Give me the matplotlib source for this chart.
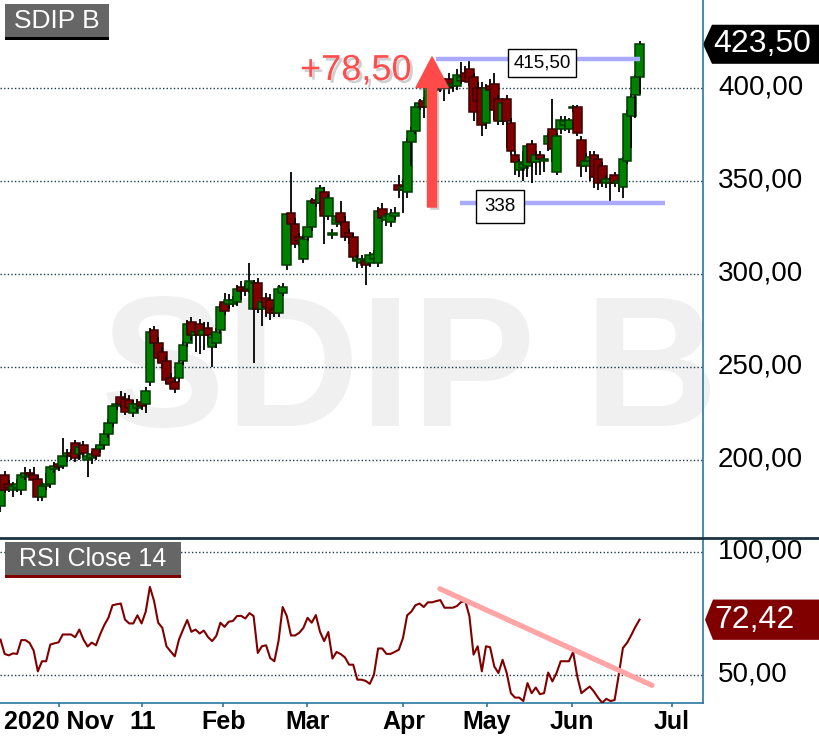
import numpy as np
import matplotlib.pyplot as plt
import matplotlib.patheffects as pe
from matplotlib.patches import Polygon, Rectangle
from matplotlib.lines import Line2D
from matplotlib.transforms import blended_transform_factory

plt.rcParams['font.family'] = ['Liberation Sans', 'DejaVu Sans']

# daily candles
opens = [175, 192, 187, 184, 185, 184, 191, 193, 192, 190,
         180, 186, 187, 195, 198, 197, 202, 204, 209, 203,
         208, 200, 201, 206, 206, 208, 214, 220, 229, 234,
         233, 232, 225, 228, 231, 230, 242, 270, 263, 258,
         253, 244, 242, 244, 253, 263, 274, 267, 273, 267,
         271, 261, 263, 270, 285, 284, 284, 285, 293, 292,
         292, 281, 295, 281, 287, 286, 281, 279, 290, 305,
         333, 327, 320, 308, 320, 325, 340, 338, 344, 331,
         321, 327, 333, 328, 322, 320, 307, 306, 307, 306,
         308, 306, 335, 329, 328, 331, 348, 345, 344, 371,
         377, 390, 393, 390, 398, 402, 405, 400, 405, 401,
         401, 404, 408, 410, 406, 400, 400, 381, 401, 402,
         394, 382, 394, 381, 364, 356, 357, 358, 370, 360,
         364, 361, 370, 378, 355, 378, 380, 378, 389, 390,
         372, 358, 361, 364, 362, 358, 349, 349, 353, 349,
         347, 361, 385, 396, 406]
highs = [186, 194, 189, 188, 190, 193, 196, 195, 196, 192,
         188, 193, 197, 199, 201, 212, 206, 206, 211, 209,
         210, 204, 205, 208, 210, 216, 222, 230, 233, 237,
         236, 235, 232, 233, 234, 239, 271, 272, 266, 261,
         256, 247, 245, 254, 264, 275, 277, 271, 276, 274,
         274, 268, 271, 284, 290, 289, 288, 294, 296, 295,
         306, 297, 298, 287, 290, 289, 284, 294, 295, 333,
         355, 330, 322, 321, 327, 341, 343, 348, 347, 343,
         324, 333, 339, 331, 324, 322, 310, 310, 309, 312,
         313, 336, 338, 333, 335, 336, 353, 351, 373, 379,
         392, 394, 395, 402, 403, 404, 407, 403, 408, 404,
         410, 414, 412, 415.5, 408, 403, 403, 402, 405, 408,
         396, 393, 396, 384, 366, 362, 366, 370, 372, 366,
         366, 364, 376, 394, 376, 385, 385, 384, 391, 391,
         374, 365, 366, 366, 364, 360, 353, 352, 355, 352,
         363, 388, 397, 407, 425.5]
lows = [172, 182, 183, 180, 183, 181, 189, 189, 186, 178,
        178, 184, 185, 193, 194, 195, 199, 200, 199, 200,
        201, 191, 198, 200, 204, 206, 212, 218, 227, 228,
        224, 226, 223, 226, 227, 225, 240, 261, 252, 249,
        241, 239, 236, 242, 251, 261, 264, 258, 257, 259,
        262, 250, 260, 268, 278, 281, 282, 283, 286, 288,
        290, 252, 279, 272, 277, 275, 277, 277, 288, 302,
        325, 314, 315, 306, 318, 323, 336, 334, 316, 329,
        319, 325, 326, 318, 316, 307, 303, 303, 294, 304,
        306, 304, 328, 326, 325, 329, 341, 333, 341, 358,
        375, 388, 384, 388, 396, 397, 398, 393, 397, 398,
        399, 402, 403, 401, 382, 389, 374, 378, 394, 383,
        380, 380, 368, 364, 353, 352, 350, 352, 349, 353,
        353, 355, 366, 360, 353, 375, 377, 376, 387, 374,
        352, 355, 350, 346, 345, 347, 346, 338, 347, 344,
        341, 359, 368, 384, 397]
closes = [184, 184, 185, 186, 187, 192, 193, 192, 189, 180,
          186, 187, 196, 197, 196, 202, 204, 202, 201, 207,
          204, 202, 203, 202, 208, 214, 220, 229, 230, 230,
          226, 228, 230, 230, 229, 237, 269, 263, 255, 252,
          243, 241, 238, 252, 262, 273, 267, 269, 267, 270,
          267, 266, 269, 282, 280, 286, 286, 292, 291, 291,
          296, 295, 281, 285, 282, 279, 279, 292, 293, 332,
          327, 316, 318, 319, 325, 339, 338, 346, 331, 341,
          322, 331, 328, 320, 320, 309, 308, 308, 305, 310,
          311, 334, 330, 331, 332, 333, 345, 347, 371, 377,
          390, 392, 390, 400, 401, 399, 400, 401, 400, 402,
          407, 406, 404, 403, 387, 393, 380, 400, 399, 388,
          382, 392, 382, 366, 360, 360, 359, 369, 360, 364,
          362, 362, 374, 367, 374, 383, 382, 383, 390, 376,
          358, 361, 363, 352, 349, 350, 351, 351, 349, 350,
          362, 386, 395, 406, 423.5]

rsi = [64.3, 58.5, 57.9, 58.7, 58.5, 64.1, 64.1, 63.0, 59.8, 51.4,
       55.5, 55.5, 62.3, 62.8, 63.2, 66.4, 66.4, 66.4, 65.3, 68.4,
       64.3, 61.5, 63.1, 62.0, 66.4, 70.2, 73.2, 78.3, 78.7, 79.0,
       72.5, 70.9, 70.9, 74.2, 70.9, 75.7, 85.8, 80.1, 71.2, 69.1,
       61.6, 59.5, 57.5, 64.3, 68.4, 72.3, 67.5, 68.4, 66.8, 68.0,
       65.4, 63.7, 65.8, 71.2, 69.5, 71.6, 71.9, 73.9, 74.0, 72.9,
       75.1, 73.9, 58.9, 61.6, 62.0, 56.8, 55.5, 63.7, 77.6, 73.9,
       66.0, 66.0, 67.1, 69.1, 73.2, 71.2, 74.3, 67.5, 63.7, 67.4,
       56.6, 59.3, 58.4, 57.1, 54.1, 54.1, 48.0, 48.0, 47.5, 46.3,
       50.0, 60.7, 60.7, 58.5, 58.5, 59.3, 60.2, 65.0, 74.2, 75.7,
       78.3, 79.0, 77.6, 79.5, 79.5, 80.0, 80.4, 77.3, 77.3, 77.3,
       78.0, 79.6, 80.0, 73.9, 58.2, 61.6, 51.4, 61.6, 61.2, 53.4,
       50.7, 56.1, 50.7, 42.5, 40.7, 40.7, 39.3, 46.6, 42.5, 44.8,
       42.1, 42.5, 50.9, 47.3, 50.7, 55.5, 55.5, 55.5, 59.3, 49.3,
       42.5, 43.9, 45.2, 43.2, 40.7, 38.6, 40.2, 39.3, 39.7, 50.0,
       60.9, 63.0, 66.1, 69.5, 72.42]

tick_pos = [14.1, 34.2, 53.7, 73.9, 97.1, 117.2, 137.7, 161.8]
tick_labels = ['2020 Nov', '11', 'Feb', 'Mar', 'Apr', 'May', 'Jun', 'Jul']
price_ticks = [200, 250, 300, 350, 400]
price_labels = ['200,00', '250,00', '300,00', '350,00', '400,00']
rsi_ticks = [50, 100]
rsi_labels = ['50,00', '100,00']

last_price = 423.5
last_rsi = 72.42
resist = 415.5
support = 338
resist_span = [104.9, 154.1]
support_span = [110.7, 160.1]
arrow_x = 104
arrow_from, arrow_to = 336, 416.7
trend_x = [105.9, 157.0]
trend_y = [85.0, 45.7]

W, H = 819, 747
fig = plt.figure(figsize=(W / 100, H / 100), dpi=100)
ax = fig.add_axes([0, 1 - 537 / H, 703 / W, 537 / H])
ax2 = fig.add_axes([0, 1 - 703 / H, 703 / W, 166 / H])

xl = (-0.12, 169.3)
grid_col = '#1d3b4a'
axis_col = '#2b77a0'

# ---- price panel
ax.set_xlim(xl)
ax.set_ylim(158.6, 447.3)
for s in ax.spines.values():
    s.set_visible(False)
ax.set_xticks([])
ax.set_yticks([])

ax.text(0.583, 0.207, 'SDIP B', transform=ax.transAxes, fontsize=134, fontweight='bold',
        color='#f0f0f0', ha='center', va='baseline', zorder=0)

for p in price_ticks:
    ax.axhline(p, color=grid_col, lw=1, ls=(0, (1, 1.6)), zorder=1)

for i in range(len(closes)):
    o, h, l, c = opens[i], highs[i], lows[i], closes[i]
    up = c >= o
    face = '#008000' if up else '#800000'
    edge = '#003a00' if up else '#3a0000'
    z = 2 + i * 0.01
    ax.vlines(i, l, h, color='black', lw=1.3, zorder=z)
    ax.add_patch(Rectangle((i - 1.05, min(o, c)), 2.1, max(abs(c - o), 0.8),
                           facecolor=face, edgecolor=edge, lw=1.1, zorder=z + 0.005))

ax.hlines(resist, resist_span[0], resist_span[1], color='#aaaaff', lw=3.2, zorder=5)
ax.hlines(support, support_span[0], support_span[1], color='#aaaaff', lw=3.2, zorder=5)
ax.text(130.5, 413.4, '415,50', fontsize=13.5, ha='center', va='center', zorder=6,
        bbox=dict(boxstyle='square,pad=0.3', fc='white', ec='black', lw=1))
ax.text(120.4, 336.3, '338', fontsize=13.5, ha='center', va='center', zorder=6,
        bbox=dict(boxstyle='square,pad=0.45', fc='white', ec='black', lw=1))

shadow = [pe.SimplePatchShadow(offset=(2, -2), shadow_rgbFace='#777777', alpha=0.35), pe.Normal()]
ax.text(72.2, 404.3, '+78,50', fontsize=26, color='#ff4d4d', ha='left', va='baseline',
        zorder=7, path_effects=shadow)
ann = ax.annotate('', xy=(arrow_x, arrow_to), xytext=(arrow_x, arrow_from),
                  arrowprops=dict(arrowstyle='simple,head_length=2.2,head_width=2.3,tail_width=0.65',
                                  mutation_scale=10, color='#ff4a4a', shrinkA=0, shrinkB=0),
                  zorder=7)
ann.arrow_patch.set_path_effects(shadow)

# ---- RSI panel
ax2.set_xlim(xl)
ax2.set_ylim(38.5, 106.1)
for k in ['top', 'left', 'right']:
    ax2.spines[k].set_visible(False)
ax2.spines['bottom'].set_color(axis_col)
ax2.spines['bottom'].set_linewidth(1.2)
ax2.set_yticks([])
ax2.set_xticks(tick_pos)
ax2.set_xticklabels(tick_labels, fontsize=18, fontweight='bold')
ax2.tick_params(axis='x', length=3, width=1.2, color=axis_col, pad=2)
for r in rsi_ticks:
    ax2.axhline(r, color=grid_col, lw=1, ls=(0, (1, 1.6)), zorder=1)
ax2.plot(range(len(rsi)), rsi, color='#800000', lw=1.5, zorder=3)
ax2.plot(trend_x, trend_y, color='#ffa5a5', lw=3.8, solid_capstyle='round', zorder=4)

# ---- frame lines
fig.add_artist(Line2D([703 / W, 703 / W], [1 - 703 / H, 1], transform=fig.transFigure,
                      color=axis_col, lw=1.2))
fig.add_artist(Line2D([0, 1], [1 - 537.5 / H, 1 - 537.5 / H], transform=fig.transFigure,
                      color='#1b3442', lw=2))

# ---- right scale labels
tp = blended_transform_factory(fig.transFigure, ax.transData)
tr = blended_transform_factory(fig.transFigure, ax2.transData)
for p, lab in zip(price_ticks, price_labels):
    fig.text(718 / W, p, lab, transform=tp, fontsize=20, ha='left', va='center')
for r, lab in zip(rsi_ticks, rsi_labels):
    fig.text(718 / W, r, lab, transform=tr, fontsize=20, ha='left', va='center')

hp = 10.5
fig.add_artist(Polygon([(703 / W, last_price), (712 / W, last_price + hp), (1, last_price + hp),
                        (1, last_price - hp), (712 / W, last_price - hp)],
                       closed=True, transform=tp, facecolor='black', edgecolor='none'))
fig.text(762 / W, last_price, '423,50', transform=tp, fontsize=23, color='white',
         ha='center', va='center')
hr = 8.2
fig.add_artist(Polygon([(705 / W, last_rsi), (713 / W, last_rsi + hr), (1, last_rsi + hr),
                        (1, last_rsi - hr), (713 / W, last_rsi - hr)],
                       closed=True, transform=tr, facecolor='#800000', edgecolor='none'))
fig.text(754 / W, last_rsi, '72,42', transform=tr, fontsize=23, color='white',
         ha='center', va='center')

# ---- panel titles
fig.add_artist(Rectangle((5 / W, 1 - 37 / H), 104 / W, 33 / H, transform=fig.transFigure,
                         facecolor='#666666', edgecolor='none'))
fig.add_artist(Rectangle((5 / W, 1 - 40 / H), 104 / W, 3 / H, transform=fig.transFigure,
                         facecolor='black', edgecolor='none'))
fig.text(57 / W, 1 - 21 / H, 'SDIP B', fontsize=19, color='white', ha='center', va='center')

fig.add_artist(Rectangle((5 / W, 1 - 575 / H), 176 / W, 33 / H, transform=fig.transFigure,
                         facecolor='#666666', edgecolor='none'))
fig.add_artist(Rectangle((5 / W, 1 - 578 / H), 176 / W, 3 / H, transform=fig.transFigure,
                         facecolor='#800000', edgecolor='none'))
fig.text(93 / W, 1 - 558.5 / H, 'RSI Close 14', fontsize=18, color='white',
         ha='center', va='center')

fig.savefig('out.png', dpi=100)
